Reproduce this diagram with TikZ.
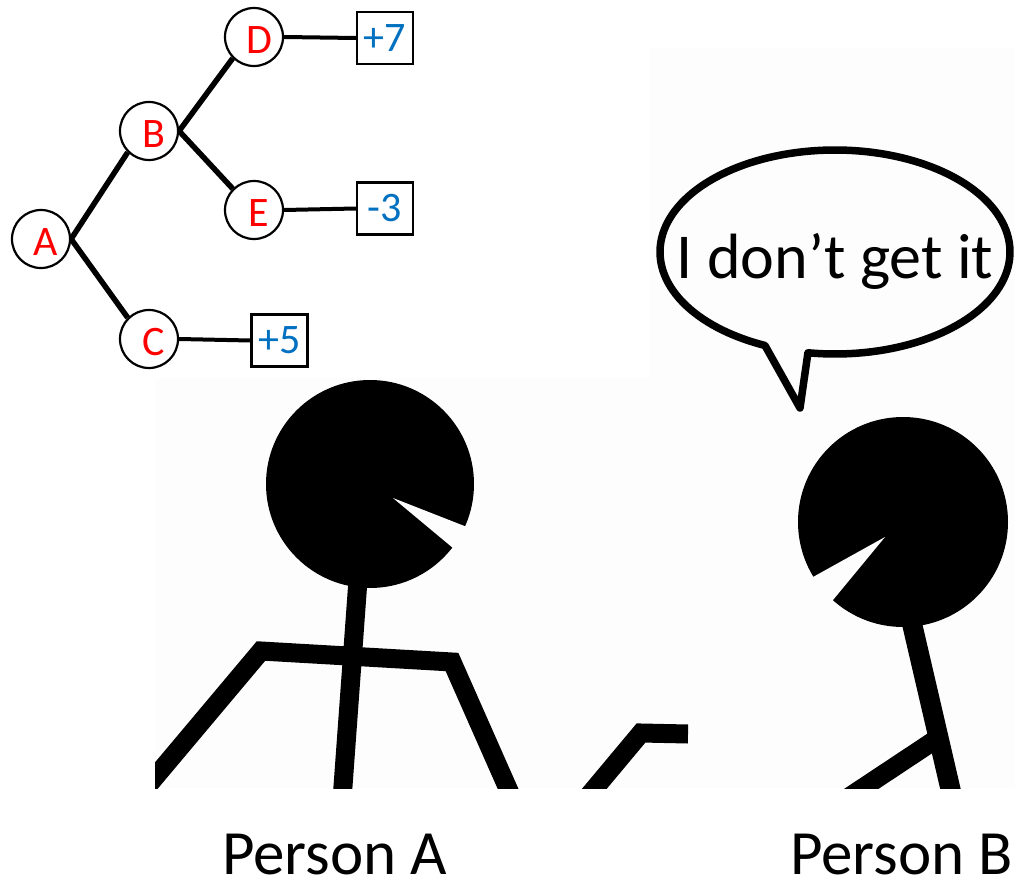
\documentclass[tikz,border=0pt]{standalone}
\usepackage{fontspec}
\setmainfont{Carlito}
\definecolor{treered}{RGB}{255,0,0}
\definecolor{treeblue}{RGB}{0,112,192}
\definecolor{photobg}{RGB}{253,253,253}
\begin{document}
\begin{tikzpicture}[x=1pt,y=-1pt,
  state/.style={circle,draw=black,line width=2.2pt,minimum size=58pt,inner sep=0pt,fill=white},
  letter/.style={text=treered,font=\fontsize{42}{48}\selectfont,xshift=5pt,yshift=-3pt,inner sep=0pt},
  payoff/.style={rectangle,draw=black,line width=2.2pt,minimum width=56pt,minimum height=52pt,inner sep=0pt,
    text=treeblue,font=\fontsize{42}{48}\selectfont,fill=white},
  branch/.style={line width=5.5pt},
  tail/.style={line width=4pt},
  limb/.style={line width=19pt,line join=miter},
  bubble/.style={line width=7.5pt,line join=round},
  caption/.style={font=\fontsize{63}{70}\selectfont,inner sep=0pt,anchor=base west}]
\useasboundingbox (0,0) rectangle (1015,883);
\fill[white] (0,0) rectangle (1015,883);

% faint backdrop of the sketch
\fill[photobg] (155,48) rectangle (1015,788);
\fill[white] (0,0) rectangle (650,378);

% ---- game tree ----
\node[state,label={[letter]center:A}] (A) at (41,239) {};
\node[state,label={[letter]center:B}] (B) at (149,131) {};
\node[state,label={[letter]center:C}] (C) at (149,339) {};
\node[state,label={[letter]center:D}] (D) at (254,37) {};
\node[state,label={[letter]center:E}] (E) at (254,210) {};
\node[payoff] (pD) at (385,38) {+7};
\node[payoff] (pE) at (385,208.5) {-3};
\node[payoff] (pC) at (279.5,340.5) {+5};

\draw[branch] (A.east) -- (B.south west);
\draw[branch] (A.east) -- (C.north west);
\draw[branch] (B.east) -- (D.south west);
\draw[branch] (B.east) -- (E.north west);
\draw[tail] (D.east) -- (pD.west);
\draw[tail] (E.east) -- (pE.west);
\draw[tail] (C.east) -- (pC.west);

% ---- stick figures ----
\begin{scope}
  \clip (155,48) rectangle (1015,788);
  % person A
  \fill[black] (370,484) circle[radius=104];
  \fill[photobg] (393,498) -- (541,556) -- (513,598) -- cycle;
  \draw[limb] (358,580) -- (342,800);
  \draw[limb] (140,795) -- (261,651) -- (452,662) -- (513,800);
  \draw[limb] (585,800) -- (641,733) -- (688,734);
  % person B
  \fill[black] (903,522) circle[radius=105];
  \fill[photobg] (885,537) -- (741,617) -- (781,663) -- cycle;
  \draw[limb,line width=20pt] (910,615) -- (953,800);
  \draw[limb] (938,738) -- (843,801);
\end{scope}

% speech bubble
\draw[bubble] plot[domain=-246.4:98.9,samples=150] ({835+175*cos(\x)},{252+102*sin(\x)})
  -- (800,408) -- cycle;
\node[font=\fontsize{64}{70}\selectfont,inner sep=0pt,anchor=base] (say) at (835,278) {I don’t get it};

% captions
\node[caption] (capA) at (222,874) {Person A};
\node[caption] (capB) at (790,874) {Person B};
\end{tikzpicture}
\end{document}
